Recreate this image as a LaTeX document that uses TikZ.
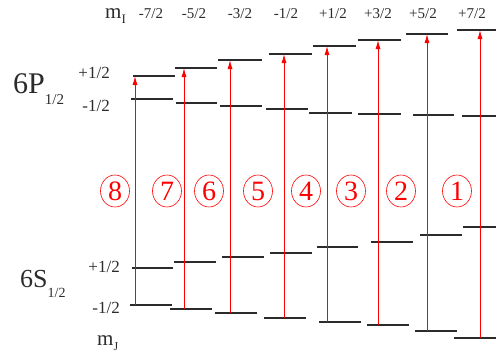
\documentclass[tikz,border=0pt]{standalone}
\usepackage{fontspec}
\setmainfont{Liberation Serif}
\usetikzlibrary{arrows.meta}
\usetikzlibrary{shapes.geometric}
\definecolor{colorOne}{HTML}{2B2B2B}
\definecolor{colorTwo}{HTML}{FF0000}
\def\colorOne{colorOne}
\def\colorTwo{colorTwo}

\begin{document}
\begin{tikzpicture}[x=1pt, y=-1pt,
    niveau/.style={line width=1.5pt, color=\colorOne},
    transition/.style={line width=1pt, color=\colorTwo, -{Latex[length=9pt, width=5pt]}},
    numero/.style={ellipse, draw=\colorTwo, line width=0.6pt, minimum width=29pt, minimum height=32pt, inner sep=0pt, text=\colorTwo},
    etiquette/.style={draw=none, fill=none, inner sep=0pt, \colorOne}
]
    \useasboundingbox (0,0) rectangle (496,362);

    % Niveaux 6P_{1/2}
    \foreach \y/\xa/\xb in {76/133/175, 68/175/217, 60/218/262, 54/269/312, 46/313/356, 40/358/401, 34/406/448, 30/457/496}
        \draw[niveau] (\xa,\y) -- (\xb,\y);
    \foreach \y/\xa/\xb in {99/131/173, 103/176/217, 106/220/262, 109/266/308, 113/309/352, 114/358/401, 115/413/454, 116/462/496}
        \draw[niveau] (\xa,\y) -- (\xb,\y);

    % Niveaux 6S_{1/2}
    \foreach \y/\xa/\xb in {268/132/173, 262/174/216, 257/222/264, 253/270/312, 247/317/358, 242/371/413, 235/420/462, 227/463/496}
        \draw[niveau] (\xa,\y) -- (\xb,\y);
    \foreach \y/\xa/\xb in {305/130/172, 309/170/212, 313/215/257, 318/264/306, 322/319/361, 325/367/409, 331/415/457, 338/454/496}
        \draw[niveau] (\xa,\y) -- (\xb,\y);

    % Transitions
    \foreach \n/\x/\ys/\yp in {1/135/305/76, 2/184/309/68, 3/230/313/60, 4/284/318/54, 5/327/322/46, 6/378/325/40, 7/427/331/34, 8/480/338/30} {
        \coordinate (bas\n) at (\x,\ys);
        \coordinate (haut\n) at (\x,\yp);
        \draw[transition] (bas\n) -- (haut\n);
    }

    % Numeros
    \foreach \n/\x in {8/115, 7/167, 6/209, 5/258, 4/306, 3/351, 2/401, 1/457}
        \node[numero] (num\n) at (\x,191) {\fontsize{28pt}{28pt}\selectfont \n};

    % m_I
    \node[etiquette, anchor=base west] (mI) at (105,18)
        {\fontsize{21pt}{21pt}\selectfont m\raisebox{-5pt}{\fontsize{13pt}{13pt}\selectfont I}};
    \foreach \k/\x/\t in {1/151/{-7/2}, 2/194/{-5/2}, 3/240/{-3/2}, 4/286/{-1/2}, 5/333/{+1/2}, 6/378/{+3/2}, 7/423/{+5/2}, 8/472/{+7/2}}
        \node[etiquette, anchor=base] (mi\k) at (\x,18) {\fontsize{15pt}{15pt}\selectfont \t};

    % Etats
    \node[etiquette, anchor=base west] (etatP) at (13,93)
        {\fontsize{30pt}{30pt}\selectfont 6P\raisebox{-11pt}{\fontsize{15pt}{15pt}\selectfont 1/2}};
    \node[etiquette, anchor=base east] (pHaut) at (110,78) {\fontsize{17pt}{17pt}\selectfont +1/2};
    \node[etiquette, anchor=base east] (pBas) at (110,111) {\fontsize{17pt}{17pt}\selectfont -1/2};

    \node[etiquette, anchor=base west] (etatS) at (20,287)
        {\fontsize{26pt}{26pt}\selectfont 6S\raisebox{-10pt}{\fontsize{14pt}{14pt}\selectfont 1/2}};
    \node[etiquette, anchor=base east] (sHaut) at (120,272) {\fontsize{17pt}{17pt}\selectfont +1/2};
    \node[etiquette, anchor=base east] (sBas) at (120,313) {\fontsize{17pt}{17pt}\selectfont -1/2};

    % m_J
    \node[etiquette, anchor=base west] (mJ) at (97,345)
        {\fontsize{21pt}{21pt}\selectfont m\raisebox{-5pt}{\fontsize{12pt}{12pt}\selectfont J}};
\end{tikzpicture}
\end{document}
